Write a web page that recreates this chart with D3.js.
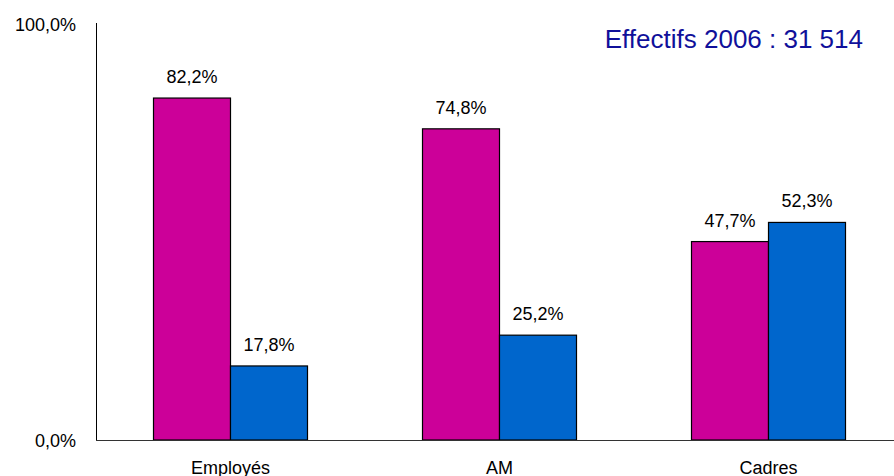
<!DOCTYPE html>
<html><head><meta charset="utf-8">
<script src="https://cdn.jsdelivr.net/npm/d3@7"></script>
<style>body{margin:0;background:#fff}</style>
</head><body>
<svg id="c" width="894" height="476"></svg>
<script>
const categories = ["Employés", "AM", "Cadres"];
const seriesA = [82.2, 74.8, 47.7];
const seriesB = [17.8, 25.2, 52.3];
const valueLabelsA = ["82,2%", "74,8%", "47,7%"];
const valueLabelsB = ["17,8%", "25,2%", "52,3%"];
const yTickValues = [0, 100];
const yTickLabels = ["0,0%", "100,0%"];
const title = "Effectifs 2006 : 31 514";

const svg = d3.select("#c");
const font = "'Liberation Sans', Arial, Helvetica, sans-serif";
const x0 = 96, x1 = 903, yTop = 24, yBot = 440;

const x = d3.scaleBand().domain(categories).range([x0, x1]).paddingInner(0).paddingOuter(0);
const y = d3.scaleLinear().domain([0, 100]).range([yBot, yTop]);
const barW = 77;

const colors = ["#CC0099", "#0066CC"];
const series = [seriesA, seriesB];
const labels = [valueLabelsA, valueLabelsB];

series.forEach((s, si) => {
  const g = svg.append("g");
  g.selectAll("rect").data(s).enter().append("rect")
    .attr("x", (d, i) => x(categories[i]) + x.bandwidth() / 2 + (si - 1) * barW)
    .attr("y", d => y(d))
    .attr("width", barW)
    .attr("height", d => yBot - y(d))
    .attr("fill", colors[si])
    .attr("stroke", "#000")
    .attr("stroke-width", 1.2);
  g.selectAll("text").data(s).enter().append("text")
    .attr("x", (d, i) => x(categories[i]) + x.bandwidth() / 2 + (si - 0.5) * barW)
    .attr("y", d => y(d) - 15)
    .attr("text-anchor", "middle")
    .style("font-family", font).style("font-size", "18px").attr("fill", "#000")
    .text((d, i) => labels[si][i]);
});

// axes
svg.append("line").attr("x1", x0 + 0.5).attr("x2", x0 + 0.5).attr("y1", yTop - 1).attr("y2", yBot)
  .attr("stroke", "#000").attr("stroke-width", 1);
svg.append("line").attr("x1", x0).attr("x2", 894).attr("y1", yBot + 0.5).attr("y2", yBot + 0.5)
  .attr("stroke", "#333").attr("stroke-width", 1.2);

svg.selectAll(".yt").data(yTickValues).enter().append("text")
  .attr("x", 76).attr("y", d => y(d) + 7)
  .attr("text-anchor", "end")
  .style("font-family", font).style("font-size", "18px").attr("fill", "#000")
  .text((d, i) => yTickLabels[i]);

svg.selectAll(".xt").data(categories).enter().append("text")
  .attr("x", d => x(d) + x.bandwidth() / 2).attr("y", 474)
  .attr("text-anchor", "middle")
  .style("font-family", font).style("font-size", "18px").attr("fill", "#000")
  .text(d => d);

svg.append("text").attr("x", 863).attr("y", 48)
  .attr("text-anchor", "end")
  .style("font-family", font).style("font-size", "26px").attr("fill", "#10109A")
  .text(title);
</script>
</body></html>
